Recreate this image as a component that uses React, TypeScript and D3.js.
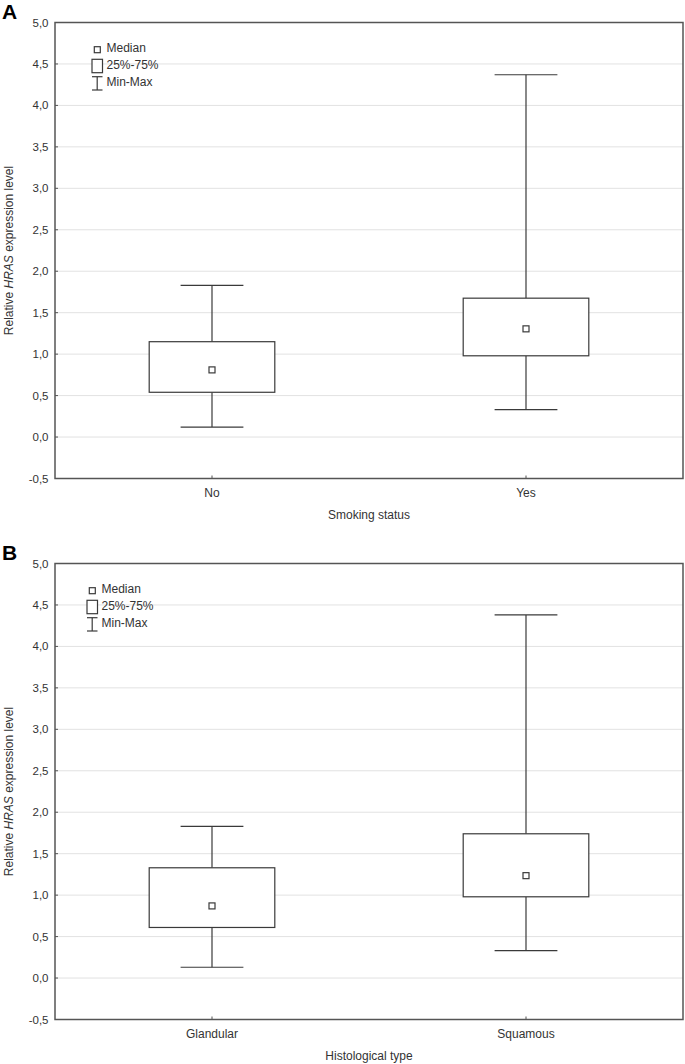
import React from "react";
import * as d3 from "d3";

const panelLabels = ["A", "B"];
const xTitles = ["Smoking status", "Histological type"];
const categoriesA = ["No", "Yes"];
const categoriesB = ["Glandular", "Squamous"];
const minA = [0.12, 0.33];
const q1A = [0.54, 0.98];
const medianA = [0.81, 1.305];
const q3A = [1.15, 1.675];
const maxA = [1.83, 4.37];
const minB = [0.13, 0.33];
const q1B = [0.61, 0.98];
const medianB = [0.87, 1.235];
const q3B = [1.33, 1.74];
const maxB = [1.83, 4.38];
const yTicks = [-0.5, 0, 0.5, 1, 1.5, 2, 2.5, 3, 3.5, 4, 4.5, 5];
const legendLabels = ["Median", "25%-75%", "Min-Max"];

const W = 685;
const H = 1064;
const FONT = "'Liberation Sans', Arial, sans-serif";
const TXT = "#333";
const AX = "#555";
const GRID = "#e2e2e2";
const BOX = "#3a3a3a";

type PanelData = {
  label: string;
  xTitle: string;
  cats: string[];
  min: number[];
  q1: number[];
  med: number[];
  q3: number[];
  max: number[];
  offY: number;
  legendDx: number;
};

const panels: PanelData[] = [
  { label: panelLabels[0], xTitle: xTitles[0], cats: categoriesA, min: minA, q1: q1A, med: medianA, q3: q3A, max: maxA, offY: 0, legendDx: 0 },
  { label: panelLabels[1], xTitle: xTitles[1], cats: categoriesB, min: minB, q1: q1B, med: medianB, q3: q3B, max: maxB, offY: 541, legendDx: -5 },
];

const fmt = (v: number) => d3.format(".1f")(v).replace(".", ",").replace("−", "-");

function Panel({ p }: { p: PanelData }) {
  const left = 55, right = 683, top = 22.5, bottom = 478.5;
  const y = d3.scaleLinear().domain([-0.5, 5]).range([bottom, top]);
  const x = d3.scaleBand<string>().domain(p.cats).range([left, right]);
  const bw = x.bandwidth();
  const boxW = bw * 0.4;
  const capW = bw * 0.2;
  const medS = 6;
  return (
    <g transform={`translate(0,${p.offY})`}>
      <text x={2} y={18.5} fontFamily={FONT} fontWeight="bold" fontSize={21} fill="#000">{p.label}</text>
      {yTicks.map((t) => (
        <line key={"g" + t} x1={left} x2={right} y1={y(t)} y2={y(t)} stroke={GRID} strokeWidth={1} />
      ))}
      {yTicks.map((t) => (
        <g key={"t" + t}>
          <line x1={left} x2={left + 3} y1={y(t)} y2={y(t)} stroke={AX} strokeWidth={1} />
          <text x={48.5} y={y(t)} dy="0.35em" textAnchor="end" fontFamily={FONT} fontSize={11.5} fill={TXT}>{fmt(t)}</text>
        </g>
      ))}
      {p.cats.map((c, i) => {
        const cx = (x(c) as number) + bw / 2;
        return (
          <g key={c}>
            <line x1={cx} x2={cx} y1={y(p.max[i])} y2={y(p.q3[i])} stroke={BOX} strokeWidth={1.2} />
            <line x1={cx} x2={cx} y1={y(p.q1[i])} y2={y(p.min[i])} stroke={BOX} strokeWidth={1.2} />
            <line x1={cx - capW / 2} x2={cx + capW / 2} y1={y(p.max[i])} y2={y(p.max[i])} stroke={BOX} strokeWidth={1.2} />
            <line x1={cx - capW / 2} x2={cx + capW / 2} y1={y(p.min[i])} y2={y(p.min[i])} stroke={BOX} strokeWidth={1.2} />
            <rect x={cx - boxW / 2} y={y(p.q3[i])} width={boxW} height={y(p.q1[i]) - y(p.q3[i])} fill="#fff" stroke={BOX} strokeWidth={1.2} />
            <rect x={cx - medS / 2} y={y(p.med[i]) - medS / 2} width={medS} height={medS} fill="#fff" stroke={BOX} strokeWidth={1.2} />
            <line x1={cx} x2={cx} y1={bottom} y2={bottom - 3} stroke={AX} strokeWidth={1} />
            <text x={cx} y={bottom + 14} dy="0.35em" textAnchor="middle" fontFamily={FONT} fontSize={12} fill={TXT}>{c}</text>
          </g>
        );
      })}
      <rect x={left} y={top} width={right - left} height={bottom - top} fill="none" stroke={AX} strokeWidth={1.5} />
      <text x={(left + right) / 2} y={bottom + 36} dy="0.35em" textAnchor="middle" fontFamily={FONT} fontSize={12} fill={TXT}>{p.xTitle}</text>
      <text transform={`translate(12.5,${(top + bottom) / 2}) rotate(-90)`} textAnchor="middle" fontFamily={FONT} fontSize={12} fill={TXT}>
        Relative <tspan fontStyle="italic">HRAS</tspan> expression level
      </text>
      <g transform={`translate(${p.legendDx},0)`}>
        <rect x={94.3} y={46.7} width={6} height={6} fill="#fff" stroke={BOX} strokeWidth={1.2} />
        <rect x={92} y={59.3} width={10.5} height={13.4} fill="#fff" stroke={BOX} strokeWidth={1.2} />
        <line x1={97.2} x2={97.2} y1={76.7} y2={90} stroke={BOX} strokeWidth={1.2} />
        <line x1={92} x2={102.5} y1={76.7} y2={76.7} stroke={BOX} strokeWidth={1.2} />
        <line x1={92} x2={102.5} y1={90} y2={90} stroke={BOX} strokeWidth={1.2} />
        {legendLabels.map((l, i) => (
          <text key={l} x={106.5} y={[47.5, 65, 82][i]} dy="0.35em" fontFamily={FONT} fontSize={12} fill={TXT}>{l}</text>
        ))}
      </g>
    </g>
  );
}

export default function App() {
  return (
    <svg width={W} height={H} style={{ position: "absolute", left: 0, top: 0, background: "#fff" }}>
      <rect width={W} height={H} fill="#fff" />
      {panels.map((p) => (
        <Panel key={p.label} p={p} />
      ))}
    </svg>
  );
}
